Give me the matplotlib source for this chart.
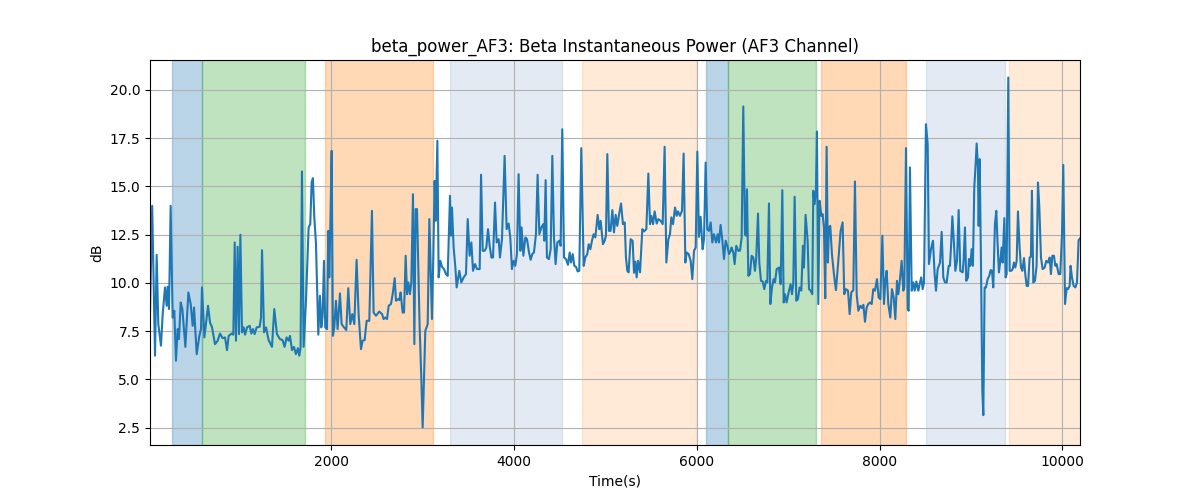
from matplotlib import pyplot as plt

# beta power samples (time in s, power in dB)
times = [16, 40, 71, 89, 107, 136, 155, 180, 198, 209, 224, 242, 264, 282, 300, 319, 333, 352, 370, 403,
         436, 461, 483, 498, 527, 556, 574, 585, 611, 651, 673, 695, 727, 757, 782, 811, 837, 859, 877, 910,
         928, 943, 957, 975, 990, 1005, 1023, 1041, 1056, 1078, 1107, 1125, 1143, 1161, 1183, 1216, 1231, 1242, 1264, 1286,
         1314, 1351, 1376, 1405, 1438, 1467, 1489, 1511, 1533, 1548, 1570, 1592, 1613, 1635, 1650, 1664, 1679, 1697, 1723, 1752,
         1770, 1785, 1799, 1814, 1832, 1858, 1876, 1891, 1905, 1920, 1934, 1953, 1967, 1978, 1989, 2004, 2018, 2033, 2051, 2069,
         2095, 2113, 2139, 2164, 2186, 2208, 2230, 2252, 2277, 2299, 2325, 2343, 2365, 2387, 2416, 2445, 2463, 2489, 2525, 2555,
         2573, 2591, 2610, 2628, 2653, 2672, 2694, 2708, 2730, 2745, 2759, 2781, 2796, 2814, 2829, 2843, 2861, 2876, 2894, 2909,
         2923, 2938, 2967, 2985, 3000, 3015, 3029, 3055, 3073, 3088, 3102, 3117, 3131, 3142, 3161, 3175, 3193, 3212, 3234, 3255,
         3274, 3299, 3310, 3321, 3339, 3358, 3372, 3401, 3423, 3449, 3474, 3493, 3514, 3533, 3551, 3573, 3595, 3624, 3639, 3657,
         3679, 3697, 3715, 3733, 3752, 3770, 3792, 3810, 3832,
         3846, 3868, 3897, 3919, 3941, 3959, 3977, 3995, 4014, 4032, 4050, 4069, 4083, 4102, 4124, 4142, 4164, 4182, 4200, 4218,
         4240, 4258, 4277, 4299, 4321, 4331, 4346, 4360, 4382, 4401, 4419, 4437, 4455, 4474, 4496, 4510, 4528, 4547, 4569, 4590,
         4609, 4623, 4642, 4660, 4678, 4696, 4714, 4736, 4762, 4780, 4802, 4817, 4835, 4853, 4871, 4890, 4915, 4933, 4948, 4973,
         4992, 5006, 5021, 5039, 5057, 5076, 5094,
         5112, 5130, 5149, 5171, 5192, 5211, 5225, 5240, 5254, 5276, 5298, 5313, 5327, 5342, 5357, 5379, 5404, 5422, 5448, 5470,
         5488, 5503, 5521, 5539, 5561, 5579, 5605, 5627, 5648, 5667, 5689, 5707, 5721, 5740, 5762, 5780, 5794, 5816, 5838, 5856,
         5875, 5889, 5911, 5933, 5951, 5970, 5988, 6006, 6024, 6042, 6064, 6079, 6097, 6115, 6134, 6152, 6170, 6188, 6210, 6229,
         6243, 6261, 6280, 6298, 6316, 6334, 6353, 6371,
         6381, 6400, 6414, 6432, 6454, 6473, 6491, 6509, 6527, 6538, 6549, 6564, 6582, 6600, 6619, 6637, 6651, 6670, 6684, 6703,
         6721, 6739, 6757, 6772, 6790, 6805, 6823, 6841, 6856, 6874, 6899, 6918, 6936, 6951, 6965, 6983, 7005, 7027, 7042, 7056,
         7071, 7089, 7107, 7125, 7144, 7162, 7173, 7191, 7213, 7228, 7246, 7264, 7275, 7290, 7304, 7315, 7330, 7344, 7363, 7377,
         7392, 7406, 7421, 7435, 7446, 7461, 7479, 7501, 7523, 7549, 7574, 7596, 7614, 7633,
         7655, 7673, 7691, 7713, 7731, 7750, 7768, 7790, 7808, 7823, 7841, 7859, 7877, 7896, 7914, 7932, 7950, 7972, 7990, 8009,
         8031, 8049, 8063, 8078, 8096, 8118, 8136, 8155, 8173, 8191, 8206, 8224, 8242, 8260, 8271, 8290, 8308, 8319, 8333, 8352,
         8370, 8385, 8403, 8425, 8443, 8457, 8472, 8487, 8508, 8527, 8541, 8563, 8585, 8603, 8618, 8636, 8662, 8680, 8698, 8716,
         8735, 8757, 8771, 8782, 8797, 8815, 8830, 8848, 8866, 8884, 8910,
         8920, 8935, 8949, 8968, 8979, 8993, 9008, 9022, 9037, 9052, 9063, 9077, 9085, 9096, 9110, 9125, 9136, 9150, 9165, 9183,
         9201, 9216, 9231, 9245, 9263, 9278, 9293, 9307, 9322, 9336, 9347, 9366, 9380, 9391, 9409, 9424, 9442, 9457, 9471, 9486,
         9501, 9515, 9533, 9548, 9563, 9581, 9595, 9610, 9625, 9643, 9657, 9668, 9683, 9701, 9719, 9734, 9749, 9767, 9785, 9807,
         9825, 9844, 9862, 9876, 9891, 9909, 9924, 9938, 9960, 9978, 9997, 10011, 10030, 10048, 10062, 10081, 10091, 10106, 10124, 10143,
         10161, 10179, 10194]

power_db = [8.4, 13.99, 6.22, 11.45, 7.86, 6.74, 8.38, 9.76, 8.81, 9.79, 8.64, 13.99, 8.2, 8.55, 5.96, 7.6, 7.08, 8.98, 8.64, 6.68,
            9.5, 8.9, 7.77, 8.72, 6.3, 7.25, 7.6, 9.76, 7.17, 8.81, 7.94, 7.69, 6.82, 7.0, 7.37, 7.13, 7.17, 6.51, 7.25, 7.37,
            7.31, 12.09, 7.0, 11.87, 7.34, 12.49, 7.43, 7.69, 7.31, 7.69, 7.77, 7.37, 7.6, 7.34, 7.69, 7.72, 8.2, 11.69, 7.43, 7.69,
            7.03, 6.68, 8.64, 7.34, 7.08, 7.03, 6.68, 7.17, 7.0, 7.25, 6.51, 6.68, 6.3, 6.61, 6.22, 6.65, 15.77, 6.68, 9.07, 12.87,
            13.04, 15.2, 15.42, 13.39, 12.09, 7.31, 9.33, 7.69, 8.29, 11.14, 7.69, 7.6, 12.69, 10.28, 12.78, 16.84, 7.25, 7.69, 9.07, 7.6,
            9.45, 7.86, 7.69, 7.55, 9.72, 7.86, 8.38, 7.86, 11.19, 8.38, 6.56, 7.0, 7.03, 8.03, 8.03, 13.73, 8.46, 8.29, 8.51, 8.38,
            8.12, 8.2, 8.12, 8.81, 8.9, 9.41, 10.24, 9.07, 9.15, 9.1, 9.5, 8.46, 8.46, 11.4, 9.41, 10.02, 9.41, 10.02, 14.59, 6.82,
            13.82, 13.82, 7.69, 5.1, 2.5, 5.1, 7.51, 7.86, 13.3, 10.62, 8.12, 11.49, 15.28, 13.21, 17.36, 10.28, 11.14, 10.83, 10.71, 10.45,
            10.36, 14.51, 12.44, 13.9, 11.83, 10.79, 9.76, 10.62, 10.02, 10.28, 10.45, 13.3, 11.4, 12.09, 10.62, 10.97, 10.71, 10.71, 15.6, 11.66,
            11.66, 11.83, 12.78, 11.92, 11.31, 11.31, 14.16, 12.09, 12.26,
            11.31, 12.26, 16.58, 12.78, 13.07, 12.35, 10.71, 11.14, 10.88, 11.49, 15.63, 11.66, 12.87, 11.4, 12.35, 12.26, 11.57, 11.19, 11.49, 11.57,
            12.52, 15.6, 12.52, 12.87, 13.04, 12.18, 15.32, 11.31, 11.23, 11.74, 16.58, 12.35, 10.97, 12.09, 12.18, 11.92, 17.96, 11.31, 11.23, 10.93,
            11.57, 11.05, 11.49, 10.88, 10.83, 10.59, 10.62, 16.98, 10.88, 11.31, 11.49, 12.0, 11.74, 12.18, 12.52, 12.35, 13.52, 12.78, 13.21, 12.0,
            12.18, 12.44, 16.67, 12.69, 12.69, 13.77, 12.61,
            13.52, 12.95, 13.52, 14.11, 13.04, 13.13, 11.31, 10.62, 10.54, 12.26, 12.18, 10.52, 11.1, 10.28, 11.14, 10.54, 12.78, 12.66, 12.78, 15.66,
            13.04, 13.47, 13.04, 13.7, 13.07, 13.3, 13.21, 13.04, 17.05, 11.05, 12.26, 12.52, 13.39, 13.04, 13.9, 13.47, 13.7, 13.47, 13.73, 16.7,
            11.05, 11.57, 11.49, 11.14, 10.19, 11.66, 11.83, 16.8, 12.38, 13.42, 11.74, 12.26, 16.23, 12.78, 12.69, 13.13, 12.09, 12.52, 12.09, 12.52,
            12.09, 13.0, 12.18, 11.23, 12.18, 11.92, 11.49, 11.66,
            11.83, 11.57, 10.97, 11.92, 11.66, 11.66, 12.35, 19.14, 12.52, 12.44, 14.85, 10.36, 10.45, 11.4, 11.31, 10.62, 11.31, 13.59, 11.05, 10.1,
            10.07, 9.67, 10.1, 10.02, 14.11, 8.9, 9.76, 10.19, 10.02, 10.71, 10.79, 9.93, 14.8, 8.98, 9.41, 8.98, 9.5, 9.93, 9.41, 9.93,
            14.46, 9.07, 9.15, 9.76, 9.59, 11.92, 10.79, 13.52, 12.18, 9.67, 9.59, 9.41, 14.77, 14.08, 14.77, 17.84, 8.9, 14.25, 13.47, 13.56,
            12.87, 9.2, 17.05, 11.05, 12.87, 12.95, 11.49, 10.45, 9.62, 11.14, 12.69, 13.13, 9.41, 9.67,
            9.59, 8.38, 9.5, 9.62, 15.25, 9.41, 8.55, 8.81, 8.69, 8.86, 7.98, 8.72, 8.9, 8.98, 8.9, 9.67, 9.59, 10.19, 9.24, 9.15,
            12.44, 8.9, 10.1, 10.62, 8.9, 8.2, 9.67, 9.24, 8.12, 10.1, 9.41, 10.19, 11.14, 9.59, 9.76, 16.98, 8.64, 8.55, 15.98, 9.59,
            10.02, 9.59, 10.07, 9.59, 10.02, 10.28, 9.67, 10.02, 18.22, 17.18, 10.97, 11.74, 12.18, 10.45, 9.59, 10.71, 11.05, 12.64, 10.28, 10.02,
            10.02, 10.88, 10.88, 11.83, 13.44, 12.0, 10.62, 11.14, 13.77, 10.62, 10.54,
            11.14, 12.87, 10.1, 10.28, 11.23, 10.88, 11.74, 10.88, 14.94, 16.15, 17.22, 15.98, 12.95, 16.41, 11.14, 4.4, 3.14, 9.76, 9.76, 10.19,
            10.36, 10.66, 10.62, 9.76, 13.04, 13.73, 11.92, 10.54, 11.14, 11.83, 11.05, 13.35, 10.28, 10.45, 20.64, 10.62, 10.62, 10.71, 11.05, 10.79,
            11.14, 13.7, 11.83, 10.79, 10.62, 11.28, 10.45, 9.84, 9.83, 11.31, 11.35, 14.77, 10.02, 10.1, 10.88, 15.2, 13.9, 11.31, 10.71, 10.79,
            11.14, 11.05, 11.31, 10.45, 11.4, 11.4, 10.88, 10.97, 10.45, 10.45, 12.52, 16.11, 8.9, 9.72, 9.67, 9.84, 10.88, 10.28, 9.84, 9.76,
            10.02, 12.21, 12.3]

# shaded intervals: (start, end, colour, alpha)
span_starts = [255, 580, 1930, 3300, 4745, 6100, 6345, 7360, 8510, 9420]
span_ends = [580, 1710, 3110, 4520, 5990, 6345, 7305, 8295, 9375, 10200]
span_colors = ['tab:blue', 'tab:green', 'tab:orange', '#4c72b0', 'tab:orange',
               'tab:blue', 'tab:green', 'tab:orange', '#4c72b0', 'tab:orange']
span_alphas = [0.3, 0.3, 0.3, 0.15, 0.16, 0.3, 0.3, 0.3, 0.15, 0.16]

fig = plt.figure(figsize=(12, 5), dpi=100)
ax = plt.gca()

for s, e, c, a in zip(span_starts, span_ends, span_colors, span_alphas):
    ax.axvspan(s, e, color=c, alpha=a)

ax.plot(times, power_db, color='tab:blue')

ax.set_xlim(times[0], times[-1])
ax.set_title('beta_power_AF3: Beta Instantaneous Power (AF3 Channel)')
ax.set_xlabel('Time(s)')
ax.set_ylabel('dB')
plt.grid()

plt.savefig('out.png')
